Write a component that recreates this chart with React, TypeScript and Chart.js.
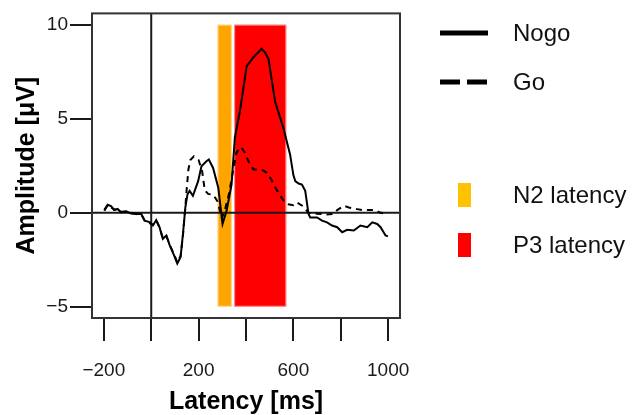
import React, { useEffect, useRef } from 'react';
import { Chart, registerables } from 'chart.js';

Chart.register(...registerables);

const nogoTimes = [-198, -184, -170, -156, -142, -127, -106, -85, -64, -42, -28, -7, 7, 21, 35, 49, 64, 78, 96, 110, 124, 134, 144, 153, 162, 176, 198, 212, 233, 243, 261, 283, 301, 318, 339, 353, 374, 403, 431, 452, 466, 480, 495, 523, 558, 586, 600, 608, 622, 636, 650, 664, 671, 700, 721, 742, 763, 785, 806, 827, 855, 883, 912, 933, 954, 968, 989, 999];
const nogoValues = [0.15, 0.42, 0.35, 0.15, 0.2, 0.02, 0.07, -0.04, -0.07, -0.07, -0.42, -0.5, -0.68, -0.39, -0.77, -1.39, -1.21, -1.74, -2.26, -2.7, -2.35, -1.12, 0.28, 0.98, 1.16, 0.9, 1.68, 2.47, 2.74, 2.83, 2.38, 1.33, -0.6, 0.1, 1.5, 4.0, 5.37, 7.8, 8.26, 8.53, 8.72, 8.53, 8.17, 5.9, 4.5, 3.1, 2.0, 1.68, 1.55, 1.5, 1.16, -0.07, -0.25, -0.25, -0.42, -0.51, -0.68, -0.77, -1.04, -0.91, -0.95, -0.68, -0.77, -0.51, -0.6, -0.77, -1.21, -1.26];

const goTimes = [-198, -184, -170, -156, -142, -127, -106, -85, -64, -42, -28, -7, 7, 21, 35, 49, 64, 78, 96, 110, 124, 134, 144, 150, 157, 165, 180, 200, 215, 226, 240, 262, 280, 298, 312, 328, 345, 360, 378, 395, 415, 432, 465, 485, 505, 530, 555, 575, 600, 615, 640, 664, 700, 740, 770, 785, 813, 834, 869, 890, 947, 961, 994];
const goValues = [0.1, 0.4, 0.3, 0.15, 0.2, 0.05, 0.05, 0, -0.07, -0.1, -0.4, -0.55, -0.65, -0.4, -0.8, -1.35, -1.25, -1.7, -2.2, -2.65, -2.3, -1.2, 0.3, 1.3, 2.3, 2.8, 3.0, 2.8, 2.2, 1.2, 1.0, 0.95, 0.6, -0.3, 0.2, 1.0, 2.2, 3.2, 3.5, 3.2, 2.6, 2.3, 2.3, 2.15, 1.8, 1.2, 0.7, 0.45, 0.4, 0.55, 0.35, 0.0, -0.05, -0.1, -0.07, 0.14, 0.37, 0.28, 0.19, 0.14, 0.14, 0.02, -0.07];

const xTickValues = [-200, 0, 200, 400, 600, 800, 1000];
const xTickLabels = ['\u2212200', '', '200', '', '600', '', '1000'];
const yTickValues = [-5, 0, 5, 10];
const yTickLabels = ['\u22125', '0', '5', '10'];

const seriesNames = ['Nogo', 'Go'];
const windowNames = ['N2 latency', 'P3 latency'];
const windowStarts = [280, 350];
const windowEnds = [340, 570];
const windowLow = [-5, -5];
const windowHigh = [10, 10];

const FONT = '"Liberation Sans", Arial, Helvetica, sans-serif';
const INK = '#1a1a1a';
const windowColors = ['#FFA500', '#FF0000'];
const windowLegendColors = ['#FFC200', '#FF0000'];

const backgroundPlugin = {
  id: 'erpBackground',
  beforeDatasetsDraw(chart: any) {
    const { ctx, chartArea, scales } = chart;
    const xs = scales.x;
    const ys = scales.y;
    ctx.save();
    for (let i = 0; i < windowStarts.length; i++) {
      const x0 = xs.getPixelForValue(windowStarts[i]);
      const x1 = xs.getPixelForValue(windowEnds[i]);
      const y0 = ys.getPixelForValue(windowHigh[i]);
      const y1 = ys.getPixelForValue(windowLow[i]);
      ctx.fillStyle = windowColors[i];
      ctx.fillRect(x0, y0, x1 - x0, y1 - y0);
      ctx.strokeStyle = 'rgba(255,255,255,0.55)';
      ctx.lineWidth = 1;
      ctx.strokeRect(x0 + 0.5, y0 + 0.5, x1 - x0 - 1, y1 - y0 - 1);
    }
    ctx.strokeStyle = INK;
    ctx.lineWidth = 2;
    const yz = ys.getPixelForValue(0);
    ctx.beginPath();
    ctx.moveTo(chartArea.left, yz);
    ctx.lineTo(chartArea.right, yz);
    ctx.stroke();
    const xz = xs.getPixelForValue(0);
    ctx.beginPath();
    ctx.moveTo(xz, chartArea.top);
    ctx.lineTo(xz, chartArea.bottom);
    ctx.stroke();
    ctx.restore();
  },
  afterDraw(chart: any) {
    const { ctx, chartArea } = chart;
    ctx.save();
    ctx.strokeStyle = '#333';
    ctx.lineWidth = 2;
    ctx.strokeRect(chartArea.left, chartArea.top, chartArea.right - chartArea.left, chartArea.bottom - chartArea.top);

    // legend
    const lx0 = chartArea.right + 40;
    const lx1 = lx0 + 48;
    const tx = chartArea.right + 113;
    const lineYs = [33, 82];
    ctx.font = `24px ${FONT}`;
    ctx.textBaseline = 'middle';
    ctx.textAlign = 'left';
    for (let i = 0; i < seriesNames.length; i++) {
      ctx.strokeStyle = '#000';
      ctx.lineWidth = 5;
      ctx.setLineDash(i === 0 ? [] : [20, 7]);
      ctx.beginPath();
      ctx.moveTo(lx0, lineYs[i]);
      ctx.lineTo(lx1, lineYs[i]);
      ctx.stroke();
      ctx.setLineDash([]);
      ctx.fillStyle = '#111';
      ctx.fillText(seriesNames[i], tx, lineYs[i] + 1);
    }
    const boxYs = [195, 245];
    for (let i = 0; i < windowNames.length; i++) {
      ctx.fillStyle = windowLegendColors[i];
      ctx.fillRect(chartArea.right + 58, boxYs[i] - 12, 13, 24);
      ctx.fillStyle = '#111';
      ctx.fillText(windowNames[i], tx, boxYs[i] + 1);
    }
    ctx.restore();
  },
};

export default function App() {
  const canvasRef = useRef<HTMLCanvasElement | null>(null);

  useEffect(() => {
    if (!canvasRef.current) return;
    const chart = new Chart(canvasRef.current, {
      type: 'line',
      data: {
        datasets: [
          {
            label: seriesNames[0],
            data: nogoTimes.map((t, i) => ({ x: t, y: nogoValues[i] })),
            borderColor: '#000',
            borderWidth: 2,
            pointRadius: 0,
            tension: 0,
            fill: false,
          },
          {
            label: seriesNames[1],
            data: goTimes.map((t, i) => ({ x: t, y: goValues[i] })),
            borderColor: '#000',
            borderWidth: 2,
            borderDash: [6, 5],
            pointRadius: 0,
            tension: 0,
            fill: false,
          },
        ],
      },
      options: {
        animation: false,
        responsive: false,
        maintainAspectRatio: false,
        events: [],
        layout: { padding: { left: 0, top: 11, right: 235, bottom: 0 } },
        plugins: {
          legend: { display: false },
          tooltip: { enabled: false },
        },
        scales: {
          x: {
            type: 'linear',
            min: -250,
            max: 1050,
            afterBuildTicks: (scale: any) => {
              scale.ticks = xTickValues.map((v) => ({ value: v }));
            },
            afterFit: (scale: any) => {
              scale.height = 97;
            },
            ticks: {
              autoSkip: false,
              maxRotation: 0,
              padding: 18,
              color: INK,
              font: { family: FONT, size: 19 },
              callback: (value: any) => {
                const idx = xTickValues.indexOf(Number(value));
                return idx >= 0 ? xTickLabels[idx] : '';
              },
            },
            grid: {
              display: true,
              drawOnChartArea: false,
              drawTicks: true,
              tickLength: 23,
              color: INK,
              lineWidth: 2,
            },
            border: { display: false },
            title: {
              display: true,
              text: 'Latency [ms]',
              color: '#000',
              font: { family: FONT, size: 25, weight: 'bold' },
              padding: { top: 0, bottom: -2 },
            },
          },
          y: {
            type: 'linear',
            min: -5.6,
            max: 10.6,
            afterBuildTicks: (scale: any) => {
              scale.ticks = yTickValues.map((v) => ({ value: v }));
            },
            afterFit: (scale: any) => {
              scale.width = 92;
            },
            ticks: {
              autoSkip: false,
              padding: 2,
              color: INK,
              font: { family: FONT, size: 19 },
              callback: (value: any) => {
                const idx = yTickValues.indexOf(Number(value));
                return idx >= 0 ? yTickLabels[idx] : '';
              },
            },
            grid: {
              display: true,
              drawOnChartArea: false,
              drawTicks: true,
              tickLength: 22,
              color: INK,
              lineWidth: 2,
            },
            border: { display: false },
            title: {
              display: true,
              text: 'Amplitude [\u03BCV]',
              color: '#000',
              font: { family: FONT, size: 25, weight: 'bold' },
              padding: { top: 12, bottom: 0 },
            },
          },
        },
      },
      plugins: [backgroundPlugin],
    } as any);
    return () => chart.destroy();
  }, []);

  return (
    <div style={{ position: 'absolute', left: 0, top: 0, width: 635, height: 415, background: '#fff' }}>
      <canvas ref={canvasRef} width={635} height={415} style={{ width: 635, height: 415, display: 'block' }} />
    </div>
  );
}
